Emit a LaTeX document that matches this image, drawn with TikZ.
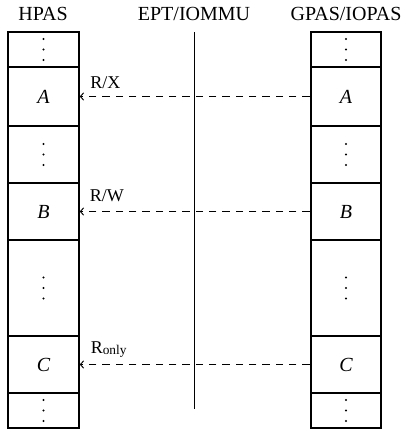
\documentclass[tikz,border=0pt]{standalone}
\usepackage{fontspec}
\setmainfont{Liberation Serif}
\usetikzlibrary{arrows.meta}

\tikzset{
	cell/.style={draw, line width=1.3pt, minimum width=53pt, inner sep=0pt, font=\fontsize{15}{18}\selectfont\itshape},
	head/.style={anchor=base, inner sep=0pt, font=\fontsize{15}{18}\selectfont},
	perm/.style={anchor=base west, inner sep=0pt, font=\fontsize{13.5}{16}\selectfont},
	map/.style={dash pattern=on 5.5pt off 4.5pt, line width=0.7pt, -{Straight Barb[length=2.5pt,width=5.5pt]}},
}
\newcommand{\celldots}[1]{\foreach \d in {-10.5,0,10.5} \fill (#1) ++(0,\d) circle[radius=0.85pt];}

\begin{document}
\begin{tikzpicture}[x=0.75pt,y=0.75pt,yscale=-1,xscale=1]
	\useasboundingbox (0,0) rectangle (405,432);
	
	% Text Node
	\node[head] (hpas) at (43,21) {HPAS};
	% Text Node
	\node[head] (ept) at (194,21) {EPT/IOMMU};
	% Text Node
	\node[head] (gpas) at (346,21) {GPAS/IOPAS};
	
	% HPAS column
	\node[cell, minimum height=26.25pt] (h1) at (43.5,49.5) {};
	\node[cell, minimum height=44.25pt] (hA) at (43.5,96.5) {A};
	\node[cell, minimum height=42.75pt] (h2) at (43.5,154.5) {};
	\node[cell, minimum height=42.75pt] (hB) at (43.5,211.5) {B};
	\node[cell, minimum height=72pt] (h3) at (43.5,288) {};
	\node[cell, minimum height=42.75pt] (hC) at (43.5,364.5) {C};
	\node[cell, minimum height=26.25pt] (h4) at (43.5,410.5) {};
	
	% GPAS/IOPAS column
	\node[cell, minimum height=26.25pt] (g1) at (346,49.5) {};
	\node[cell, minimum height=44.25pt] (gA) at (346,96.5) {A};
	\node[cell, minimum height=42.75pt] (g2) at (346,154.5) {};
	\node[cell, minimum height=42.75pt] (gB) at (346,211.5) {B};
	\node[cell, minimum height=72pt] (g3) at (346,288) {};
	\node[cell, minimum height=42.75pt] (gC) at (346,364.5) {C};
	\node[cell, minimum height=26.25pt] (g4) at (346,410.5) {};
	
	% dots
	\celldots{h1} \celldots{h2} \celldots{h3} \celldots{h4}
	\celldots{g1} \celldots{g2} \celldots{g3} \celldots{g4}
	
	% EPT/IOMMU line
	\coordinate (mtop) at (194.5,32);
	\coordinate (mbot) at (194.5,409);
	\draw[line width=0.7pt] (mtop) -- (mbot);
	
	% Connection
	\draw[map] (gA.west) -- (hA.east);
	\node[perm] (rx) at (90,88) {R/X};
	% Connection
	\draw[map] (gB.west) -- (hB.east);
	\node[perm] (rw) at (89.5,201.5) {R/W};
	% Connection
	\draw[map] (gC.west) -- (hC.east);
	\node[perm] (ronly) at (90.5,353) {R\raisebox{-1pt}{\fontsize{10}{10}\selectfont only}};
	
\end{tikzpicture}
\end{document}
